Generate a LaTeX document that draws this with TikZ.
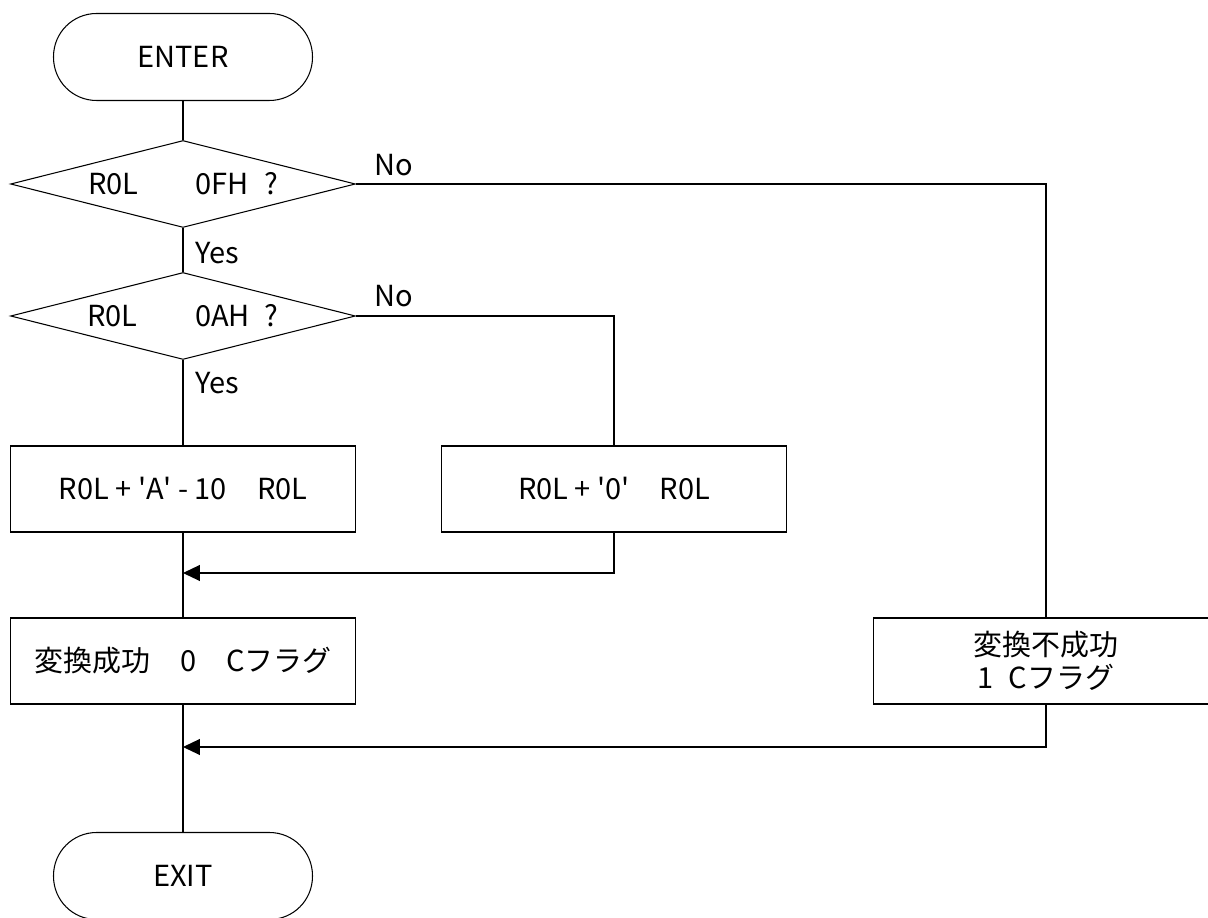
\documentclass[tikz,border=0pt]{standalone}
\usepackage{fontspec}
\setmainfont{Noto Sans CJK JP}
\usetikzlibrary{shapes.geometric,arrows.meta}

\newcommand{\sq}{\textquotesingle}

\tikzset{
	term/.style={draw, rounded corners=0.86cm, minimum width=5.18cm, minimum height=1.74cm, inner sep=0pt},
	test/.style={draw, diamond, aspect=4, minimum width=6.9cm, minimum height=1.74cm, inner sep=0pt},
	proc/.style={draw, rectangle, minimum width=6.9cm, minimum height=1.72cm, inner sep=0pt},
	lab/.style={anchor=west, inner sep=0pt},
	merge/.style={-{Triangle[length=0.34cm, width=0.32cm]}}
}

\begin{document}
\begin{tikzpicture}[x=0.02cm, y=-0.02cm, line width=0.6pt, font=\fontsize{16.5}{19}\selectfont]
\useasboundingbox (0,0) rectangle (1208,918);

\node[term] (enter) at (183,57) {ENTER};
\node[test] (d1) at (183,184) {R0L\hspace{1.15cm}0FH\hspace{0.3cm}?};
\node[test] (d2) at (183,316) {R0L\hspace{1.15cm}0AH\hspace{0.3cm}?};
\node[proc] (b1) at (183,489) {R0L + \sq A\sq{} - 10\hspace{0.6cm}R0L};
\node[proc] (b2) at (614,489) {R0L + \sq 0\sq\hspace{0.6cm}R0L};
\node[proc] (b3) at (183,661) {変換成功\hspace{0.6cm}0\hspace{0.6cm}Cフラグ};
\node[proc, align=center] (b4) at (1046,661) {変換不成功\\1\hspace{0.3cm}Cフラグ};
\node[term] (exit) at (183,876) {EXIT};

		\node[lab] (n1) at (374,165) {No};
		\node[lab] (y1) at (195,253) {Yes};
		\node[lab] (n2) at (374,296) {No};
		\node[lab] (y2) at (195,383) {Yes};

\coordinate (m1) at (183,573);
\coordinate (m2) at (183,747);

\draw (enter.south) -- (d1.north);
\draw (d1.south) -- (d2.north);
\draw (d2.south) -- (b1.north);
\draw (d1.east) -| (b4.north);
\draw (d2.east) -| (b2.north);
\draw (b1.south) -- (b3.north);
\draw[merge] (b2.south) |- (m1);
\draw (b3.south) -- (exit.north);
\draw[merge] (b4.south) |- (m2);

\end{tikzpicture}
\end{document}
